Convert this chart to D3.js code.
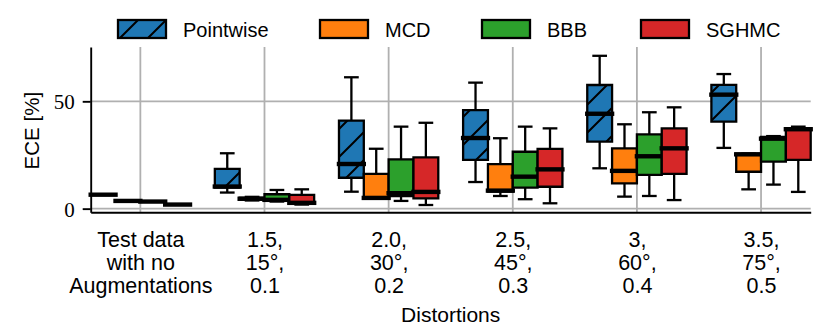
<!DOCTYPE html>
<html lang="en">
<head>
<meta charset="utf-8">
<script src="https://d3js.org/d3.v7.min.js"></script>
<style>
body { margin: 0; background: #fff; }
svg text { fill: #000; }
</style>
</head>
<body>
<svg id="chart" width="830" height="332" font-family="'Liberation Sans', Arial, sans-serif"></svg>
<script>
// tick labels, one entry per category (each split over three lines)
var categories = [
    ["Test data", "with no", "Augmentations"],
    ["1.5,", "15\u00B0,", "0.1"],
    ["2.0,", "30\u00B0,", "0.2"],
    ["2.5,", "45\u00B0,", "0.3"],
    ["3,", "60\u00B0,", "0.4"],
    ["3.5,", "75\u00B0,", "0.5"]
]
var methods = ["Pointwise", "MCD", "BBB", "SGHMC"]
var colors  = ["#1f77b4", "#ff7f0e", "#2ca02c", "#d62728"]
var yTicks  = [0, 50]

// [whisker low, q1, median, q3, whisker high] per category, ECE in %
var pointwise = [[6.5, 6.5, 6.5, 6.5, 6.5], [7.5, 9.8, 10.3, 18.5, 25.8], [7.9, 14.4, 20.8, 41.0, 61.2],
                 [12.4, 22.7, 32.9, 45.9, 58.7], [18.8, 31.2, 44.2, 57.6, 71.2], [28.3, 40.5, 53.1, 57.7, 62.7]]
var mcd       = [[3.6, 3.6, 3.6, 3.6, 3.6], [3.8, 4.1, 4.6, 5.1, 5.5], [4.6, 4.9, 5.0, 16.2, 27.9],
                 [5.9, 7.9, 8.4, 20.7, 32.8], [5.6, 11.8, 17.6, 28.1, 39.3], [9.0, 17.2, 25.3, 25.6, 25.6]]
var bbb       = [[3.3, 3.3, 3.3, 3.3, 3.3], [3.3, 3.7, 4.1, 6.7, 8.7], [3.6, 5.9, 7.2, 23.0, 38.2],
                 [4.4, 9.8, 14.9, 26.5, 38.2], [5.9, 15.7, 24.4, 34.6, 44.9], [11.2, 21.9, 32.6, 33.4, 33.8]]
var sghmc     = [[1.9, 1.9, 1.9, 1.9, 1.9], [1.9, 2.2, 2.7, 6.4, 9.0], [1.7, 4.8, 7.8, 23.9, 40.0],
                 [2.5, 10.2, 18.3, 27.8, 37.4], [4.0, 16.2, 28.1, 37.4, 47.2], [7.8, 22.7, 37.0, 37.4, 38.2]]
var series = [pointwise, mcd, bbb, sghmc]

var axLeft = 90.7, axRight = 810.7, axTop = 47, axBottom = 212.3
var boxWidth = 0.2
var lw = 2.3
var offsets = methods.map((m, j) => (j - (methods.length - 1) / 2) * boxWidth)

var x = d3.scaleLinear().domain([-0.4, categories.length - 0.6]).range([axLeft, axRight])
var y = d3.scaleLinear().domain([-1.7, 75.3]).range([axBottom, axTop])

var svg = d3.select("#chart")

// hatch for the pointwise boxes
var defs = svg.append("defs")
var hatch = defs.append("pattern").attr("id", "hatch")
    .attr("patternUnits", "userSpaceOnUse")
    .attr("x", 20).attr("y", 0).attr("width", 28).attr("height", 28)
hatch.append("path")
    .attr("d", "M0,28L28,0M-3,3L3,-3M25,31L31,25")
    .attr("stroke", "#000").attr("stroke-width", 2)

// grid
svg.append("g").selectAll("line").data(yTicks).enter().append("line")
    .attr("x1", axLeft).attr("x2", axRight)
    .attr("y1", d => y(d)).attr("y2", d => y(d))
    .attr("stroke", "#b0b0b0").attr("stroke-width", 1.8)
svg.append("g").selectAll("line").data(d3.range(categories.length)).enter().append("line")
    .attr("x1", d => x(d)).attr("x2", d => x(d))
    .attr("y1", axTop).attr("y2", axBottom)
    .attr("stroke", "#b0b0b0").attr("stroke-width", 1.8)

// boxes
var bw = x(boxWidth) - x(0)
function boxPath(cx, s) {
    var x0 = cx - bw / 2, y0 = y(s[3]), y1 = y(s[1])
    return "M" + x0 + "," + y0 + "H" + (x0 + bw) + "V" + y1 + "H" + x0 + "Z"
}

series.forEach((data, j) => {
    var g = svg.append("g").attr("class", "method")
    data.forEach((s, i) => {
        var cx = x(i + offsets[j])
        var b = g.append("g")
        // whiskers and caps
        b.append("line").attr("x1", cx).attr("x2", cx).attr("y1", y(s[3])).attr("y2", y(s[4]))
        b.append("line").attr("x1", cx).attr("x2", cx).attr("y1", y(s[1])).attr("y2", y(s[0]))
        b.append("line").attr("x1", cx - bw / 4).attr("x2", cx + bw / 4).attr("y1", y(s[4])).attr("y2", y(s[4]))
            .attr("stroke-linecap", "square")
        b.append("line").attr("x1", cx - bw / 4).attr("x2", cx + bw / 4).attr("y1", y(s[0])).attr("y2", y(s[0]))
            .attr("stroke-linecap", "square")
        b.selectAll("line").attr("stroke", "#000").attr("stroke-width", lw)
        // box
        b.append("path").attr("d", boxPath(cx, s)).attr("fill", colors[j])
        if (j == 0)
            b.append("path").attr("d", boxPath(cx, s)).attr("fill", "url(#hatch)")
        b.append("path").attr("d", boxPath(cx, s)).attr("fill", "none")
            .attr("stroke", "#000").attr("stroke-width", lw).attr("stroke-linejoin", "miter")
        // median
        b.append("line").attr("x1", cx - bw / 2).attr("x2", cx + bw / 2)
            .attr("y1", y(s[2])).attr("y2", y(s[2]))
            .attr("stroke", "#000").attr("stroke-width", 4.4).attr("stroke-linecap", "square")
    })
})

// y axis
var yAxis = svg.append("g").attr("transform", "translate(" + axLeft + ",0)")
    .call(d3.axisLeft(y).tickValues(yTicks).tickSize(8).tickPadding(8).tickSizeOuter(0))
yAxis.select(".domain").attr("stroke-width", 1.9)
yAxis.selectAll(".tick line").attr("stroke-width", 1.9)
yAxis.selectAll(".tick text")
    .style("font-family", "'Liberation Serif', 'DejaVu Serif', serif")
    .style("font-size", "21px").attr("dy", "0.35em")

// x axis
var xAxis = svg.append("g").attr("transform", "translate(0," + axBottom + ")")
    .call(d3.axisBottom(x).tickValues(d3.range(categories.length)).tickSize(0).tickFormat("").tickSizeOuter(0))
xAxis.select(".domain").attr("stroke-width", 1.9)
xAxis.selectAll(".tick text").remove()
xAxis.selectAll(".tick").append("text")
    .attr("text-anchor", "middle")
    .style("font-family", "'Liberation Sans', Arial, sans-serif").style("font-size", "21.5px")
    .selectAll("tspan").data(d => categories[d]).enter().append("tspan")
        .attr("x", 0).attr("y", (d, k) => 34.5 + k * 23)
        .text(d => d)

// axis titles
svg.append("text").attr("x", (axLeft + axRight) / 2).attr("y", 321.5)
    .attr("text-anchor", "middle").attr("font-size", 21).text("Distortions")
svg.append("text").attr("transform", "translate(38.5," + ((axTop + axBottom) / 2 + 1) + ") rotate(-90)")
    .attr("text-anchor", "middle").attr("font-size", 20.5).text("ECE [%]")

// legend
var legendX = [118, 320, 482, 641]
var lg = svg.selectAll("g.legend").data(methods).enter().append("g")
    .attr("class", "legend")
    .attr("transform", (d, j) => "translate(" + legendX[j] + ",20)")
lg.append("rect").attr("width", 48).attr("height", 18).attr("fill", (d, j) => colors[j])
lg.filter((d, j) => j == 0).append("rect").attr("width", 48).attr("height", 18).attr("fill", "url(#hatch)")
lg.append("rect").attr("width", 48).attr("height", 18).attr("fill", "none")
    .attr("stroke", "#000").attr("stroke-width", lw)
lg.append("text").attr("x", 65).attr("y", 16.5).attr("font-size", 20).text(d => d)
</script>
</body>
</html>
